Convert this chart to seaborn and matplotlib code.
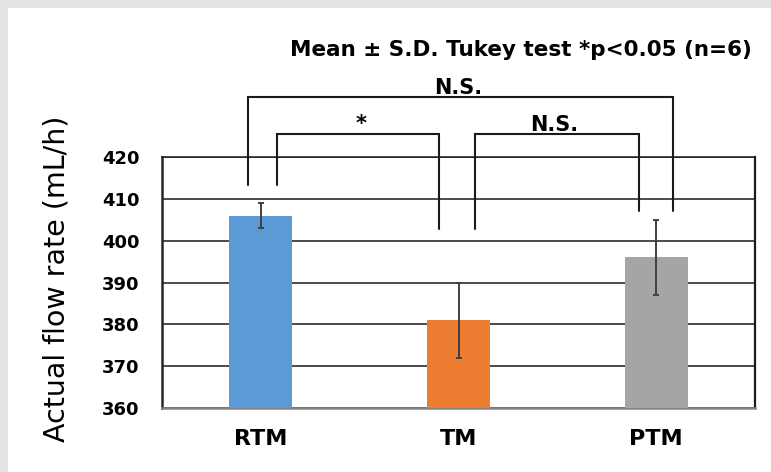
import numpy as np
import pandas as pd
import matplotlib
matplotlib.use("Agg")
import matplotlib.pyplot as plt
import seaborn as sns

# data
groups = ["RTM", "TM", "PTM"]
flow_mean = [406, 381, 396]
flow_sd = [3, 9, 9]
bar_colors = ["#5b9bd5", "#ed7d31", "#a5a5a5"]

# significance brackets: (left group, right group, height, label)
brackets = [(0, 2, 434.3, "N.S."), (0, 1, 425.4, "*"), (1, 2, 425.4, "N.S.")]
# where the bracket legs stop above each group
leg_bottom = [413.3, 402.8, 407.2]

sns.set_style("white")
plt.rcParams['font.family'] = ['DejaVu Sans']
plt.rcParams['text.color'] = 'black'

fig = plt.figure(figsize=(7.71, 4.72), dpi=100)
fig.patch.set_facecolor("#e4e4e4")
fig.add_artist(plt.Rectangle((8 / 771, 0), 1, 1 - 8 / 472, transform=fig.transFigure,
                             facecolor="white", edgecolor="none", zorder=0))

ax = fig.add_axes([162 / 771, 1 - 408 / 472, 593 / 771, 251 / 472])
df = pd.DataFrame({"group": groups, "flow": flow_mean})
sns.barplot(data=df, x="group", y="flow", hue="group", palette=bar_colors,
            width=0.32, errorbar=None, legend=False, ax=ax, zorder=3,
            saturation=1, linewidth=0)
ax.errorbar(range(len(groups)), flow_mean, yerr=flow_sd, fmt="none",
            ecolor="#404040", elinewidth=1.4, capsize=2.5, capthick=1.4, zorder=4)

ax.set_ylim(360, 420)
ax.set_xlim(-0.5, 2.5)
ax.set_yticks(np.arange(360, 421, 10))
ax.yaxis.grid(True, color="#1a1a1a", lw=1.1)
ax.set_axisbelow(True)
ax.spines["top"].set_visible(True)
ax.spines["top"].set_color("#1a1a1a")
ax.spines["top"].set_linewidth(1.1)
ax.spines["right"].set_visible(True)
ax.spines["right"].set_color("#1a1a1a")
ax.spines["right"].set_linewidth(1.6)
ax.spines["left"].set_color("#262626")
ax.spines["left"].set_linewidth(1.8)
ax.spines["bottom"].set_color("#858585")
ax.spines["bottom"].set_linewidth(1.8)

ax.set_xlabel("")
ax.set_ylabel("")
ax.tick_params(axis="y", length=0, labelsize=13, pad=16, labelcolor="black")
ax.tick_params(axis="x", length=0, labelsize=16, pad=15, labelcolor="black")
for lab in ax.get_yticklabels() + ax.get_xticklabels():
    lab.set_fontweight("bold")
ax.set_xticks([-0.5, 0.5, 1.5, 2.5], minor=True)
ax.tick_params(axis="x", which="minor", length=6, color="#d0d0d0", width=1)

fig.text(56 / 771, 1 - 279 / 472, "Actual flow rate (mL/h)", rotation=90,
         ha="center", va="center", fontsize=20.5, color="black")

# brackets
for i, j, h, txt in brackets:
    if j - i == 2:
        xl, xr = i - 0.066, j + 0.085
    else:
        xl = i + 0.082
        xr = j - (0.101 if j == 1 else 0.089)
    ax.plot([xl, xl, xr, xr], [leg_bottom[i], h, h, leg_bottom[j]], color="#1a1a1a",
            lw=1.5, clip_on=False, zorder=5, solid_joinstyle="miter")
    if txt == "*":
        ax.text((xl + xr) / 2 + 0.015, h + 0.1, txt, ha="center", va="bottom",
                fontsize=15, fontweight="bold", clip_on=False)
    else:
        ax.text((xl + xr) / 2 - 0.01, h + 0.85, txt, ha="center", va="baseline",
                fontsize=15, fontweight="bold", clip_on=False)

fig.text(752 / 771, 1 - 56 / 472, "Mean ± S.D. Tukey test *p<0.05 (n=6)",
         ha="right", va="baseline", fontsize=15.5, fontweight="bold")

fig.savefig("out.png", dpi=100, facecolor=fig.get_facecolor())
